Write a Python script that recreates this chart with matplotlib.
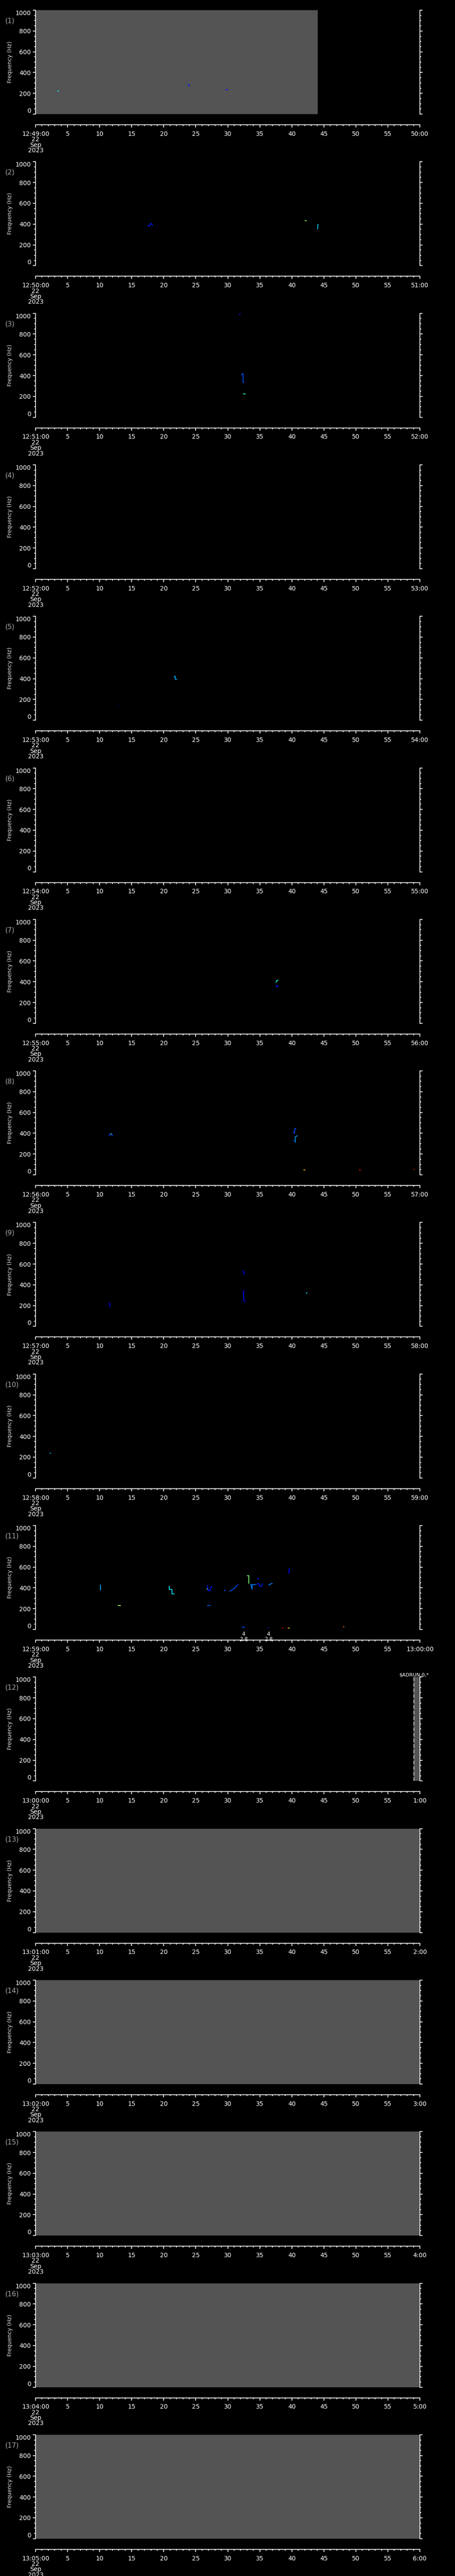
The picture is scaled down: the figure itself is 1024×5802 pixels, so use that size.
import matplotlib
matplotlib.use("Agg")
import matplotlib.pyplot as plt
from matplotlib.ticker import MultipleLocator

# panel time labels (one panel per minute)
start_labels = ["12:49:00", "12:50:00", "12:51:00", "12:52:00", "12:53:00", "12:54:00",
                "12:55:00", "12:56:00", "12:57:00", "12:58:00", "12:59:00", "13:00:00",
                "13:01:00", "13:02:00", "13:03:00", "13:04:00", "13:05:00"]
end_labels = ["50:00", "51:00", "52:00", "53:00", "54:00", "55:00", "56:00", "57:00",
              "58:00", "59:00", "13:00:00", "1:00", "2:00", "3:00", "4:00", "5:00", "6:00"]
date_lines = ["22", "Sep", "2023"]

# spectrogram traces per panel: (seconds, frequency Hz, colour level 0..1)
p01 = [([3.4, 3.7], [224, 224], 0.35),
       ([23.85, 23.9, 24.1], [293, 274, 274], 0.15),
       ([29.7, 30.06], [236, 236], 0.12)]
p02 = [([17.5, 17.8, 18.0, 18.3], [390, 380, 408, 385], 0.15),
       ([42.0, 42.3], [434, 434], 0.55),
       ([44.0, 44.1], [350, 401], 0.33)]
p03 = [([31.8, 32.0], [985, 995], 0.15),
       ([32.15, 32.3, 32.4, 32.4, 32.6], [405, 419, 419, 336, 336], 0.2),
       ([32.4, 32.8], [226, 222], 0.4)]
p04 = []
p05 = [([21.6, 21.75, 21.8, 21.8, 22.1], [418, 424, 424, 395, 395], 0.3),
       ([12.9, 13.0], [143, 141], 0.12)]
p06 = []
p07 = [([37.5, 37.6, 37.7, 37.9], [393, 400, 414, 414], 0.38),
       ([37.6, 37.65, 37.9], [370, 350, 362], 0.15)]
p08 = [([11.5, 11.6, 11.9, 12.0], [371, 394, 394, 371], 0.18),
       ([11.75, 11.85], [394, 394], 0.5),
       ([40.2, 40.4, 40.5, 40.7], [410, 400, 449, 443], 0.2),
       ([40.25, 40.45], [329, 329], 0.2),
       ([40.55, 40.55, 40.7, 40.9], [310, 367, 370, 379], 0.28),
       ([41.8, 42.1], [49, 49], 0.7),
       ([50.5, 50.8], [49, 49], 0.9),
       ([59.05, 59.15], [55, 49], 0.88)]
p09 = [([11.55, 11.55, 11.7], [231, 196, 193], 0.12),
       ([32.45, 32.5, 32.7], [539, 505, 503], 0.13),
       ([32.45, 32.45, 32.55, 32.55, 32.8], [346, 274, 274, 241, 241], 0.12),
       ([42.25, 42.4], [314, 327], 0.35)]
p10 = [([2.2, 2.45], [236, 236], 0.3)]
p11 = [([10.1, 10.1], [377, 432], 0.3),
       ([12.8, 13.35], [229, 229], 0.55),
       ([20.86, 20.86, 21.3, 21.3, 21.72], [419, 383, 383, 340, 340], 0.35),
       ([26.75, 26.85, 26.9, 27.0, 27.2, 27.5], [415, 422, 385, 373, 373, 418], 0.15),
       ([26.7, 26.85], [387, 387], 0.55),
       ([26.8, 27.35], [229, 229], 0.2),
       ([29.4, 29.7], [377, 375], 0.2),
       ([30.3, 30.5, 30.7, 31.0, 31.2, 31.4, 31.6], [363, 375, 380, 397, 400, 420, 432], 0.2),
       ([33.0, 33.3, 33.3], [516, 516, 440], 0.5),
       ([33.6, 33.8, 33.8, 34.4], [437, 387, 432, 432], 0.25),
       ([34.6, 34.9], [488, 486], 0.15),
       ([34.5, 34.7, 34.9, 35.0, 35.3, 35.45], [432, 440, 440, 416, 416, 442], 0.15),
       ([36.35, 36.6, 36.8, 37.0], [428, 432, 443, 440], 0.25),
       ([39.55, 39.6, 39.7], [537, 584, 584], 0.12),
       ([32.2, 32.7], [20, 20], 0.2),
       ([36.3, 36.45], [16, 16], 0.15),
       ([38.5, 38.7], [11, 11], 0.92),
       ([39.3, 39.45], [11, 11], 0.9),
       ([39.45, 39.65], [11, 11], 0.6),
       ([48.0, 48.2], [24, 24], 0.8)]
p12 = p13 = p14 = p15 = p16 = p17 = []
panel_traces = [p01, p02, p03, p04, p05, p06, p07, p08, p09, p10,
                p11, p12, p13, p14, p15, p16, p17]

# grey "no data" spans (seconds)
gray_spans = [(0, 44.06), None, None, None, None, None, None, None, None, None,
              None, (59.05, 60), (0, 60), (0, 60), (0, 60), (0, 60), (0, 60)]

# event annotations in panel 11
event_times = [32.46, 36.39]
event_texts = ["4\n2.8", "4\n2.8"]
marker_label = "$ADRUN,0,*"

W, H = 1024, 5802
PITCH = 341.3
LEFT, RIGHT = 80, 945
narrow = ["Liberation Sans Narrow", "DejaVu Sans"]
cmap = plt.get_cmap("jet")

fig = plt.figure(figsize=(W / 100, H / 100), dpi=100, facecolor="black")


def fy(px):
    return 1 - px / H


for i in range(17):
    top = 23 + i * PITCH
    ax = fig.add_axes([LEFT / W, fy(top + 234), (RIGHT - LEFT) / W, 234 / H])
    ax.set_facecolor("black")
    ax.set_xlim(0, 60)
    ax.set_ylim(0, 1000)
    for s in ["top", "bottom"]:
        ax.spines[s].set_visible(False)
    for s in ["left", "right"]:
        ax.spines[s].set_color("white")
        ax.spines[s].set_linewidth(1.2)
    ax.set_xticks([])
    ax.set_yticks(range(0, 1001, 200))
    ax.yaxis.set_minor_locator(MultipleLocator(50))
    ax.tick_params(axis="y", which="both", direction="out", colors="white",
                   right=True, labelright=False, width=1.2)
    ax.tick_params(axis="y", which="major", length=4, pad=3.5, labelsize=10)
    ax.tick_params(axis="y", which="minor", length=2)
    labels = ax.get_yticklabels()
    for lab in labels:
        lab.set_family(narrow)
    labels[0].set_va("bottom")
    labels[-1].set_va("top")

    span = gray_spans[i]
    if span is not None:
        ax.axvspan(span[0], span[1], color="#545454", lw=0)
    if i == 11:
        ax.axvline(span[0], color="white", lw=1, ls=(0, (6, 3)))
        ax.text(span[0], 1000, marker_label, color="white", fontsize=8,
                family=narrow, ha="center", va="bottom", clip_on=False,
                transform=ax.transData)

    for t, f, lev in panel_traces[i]:
        ax.plot(t, f, color=cmap(lev), lw=1.3, solid_capstyle="butt")

    if i == 10:
        for t, txt in zip(event_times, event_texts):
            ax.annotate(txt, (t, 0), xytext=(0, -3), textcoords="offset points",
                        ha="center", va="top", color="white", fontsize=8.5,
                        family=narrow, linespacing=0.9, annotation_clip=False)

    # separate time axis under each panel
    tax = fig.add_axes([LEFT / W, fy(top + 258), (RIGHT - LEFT) / W, 0.00001])
    tax.set_facecolor("none")
    for s in ["top", "left", "right"]:
        tax.spines[s].set_visible(False)
    tax.spines["bottom"].set_color("white")
    tax.spines["bottom"].set_linewidth(1.2)
    tax.set_xlim(0, 60)
    tax.set_yticks([])
    tax.set_xticks(range(0, 61, 5))
    tax.xaxis.set_minor_locator(MultipleLocator(1))
    ticklabels = ([start_labels[i] + "\n" + "\n".join(date_lines)]
                  + [str(s) for s in range(5, 60, 5)] + [end_labels[i]])
    tax.set_xticklabels(ticklabels)
    tax.tick_params(axis="x", which="both", direction="out", colors="white", width=1.2)
    tax.tick_params(axis="x", which="major", length=4, pad=6, labelsize=10)
    tax.tick_params(axis="x", which="minor", length=2)
    for lab in tax.get_xticklabels():
        lab.set_family(narrow)
        lab.set_linespacing(0.85)

    fig.text(12 / W, fy(top + 24), "(%d)" % (i + 1), color="#a8a8a8",
             fontsize=11, family=narrow, ha="left", va="center")
    fig.text(23 / W, fy(top + 117), "Frequency (Hz)", color="#e0e0e0",
             fontsize=9, rotation=90, ha="center", va="center")

fig.savefig("out.png", dpi=100, facecolor="black")
